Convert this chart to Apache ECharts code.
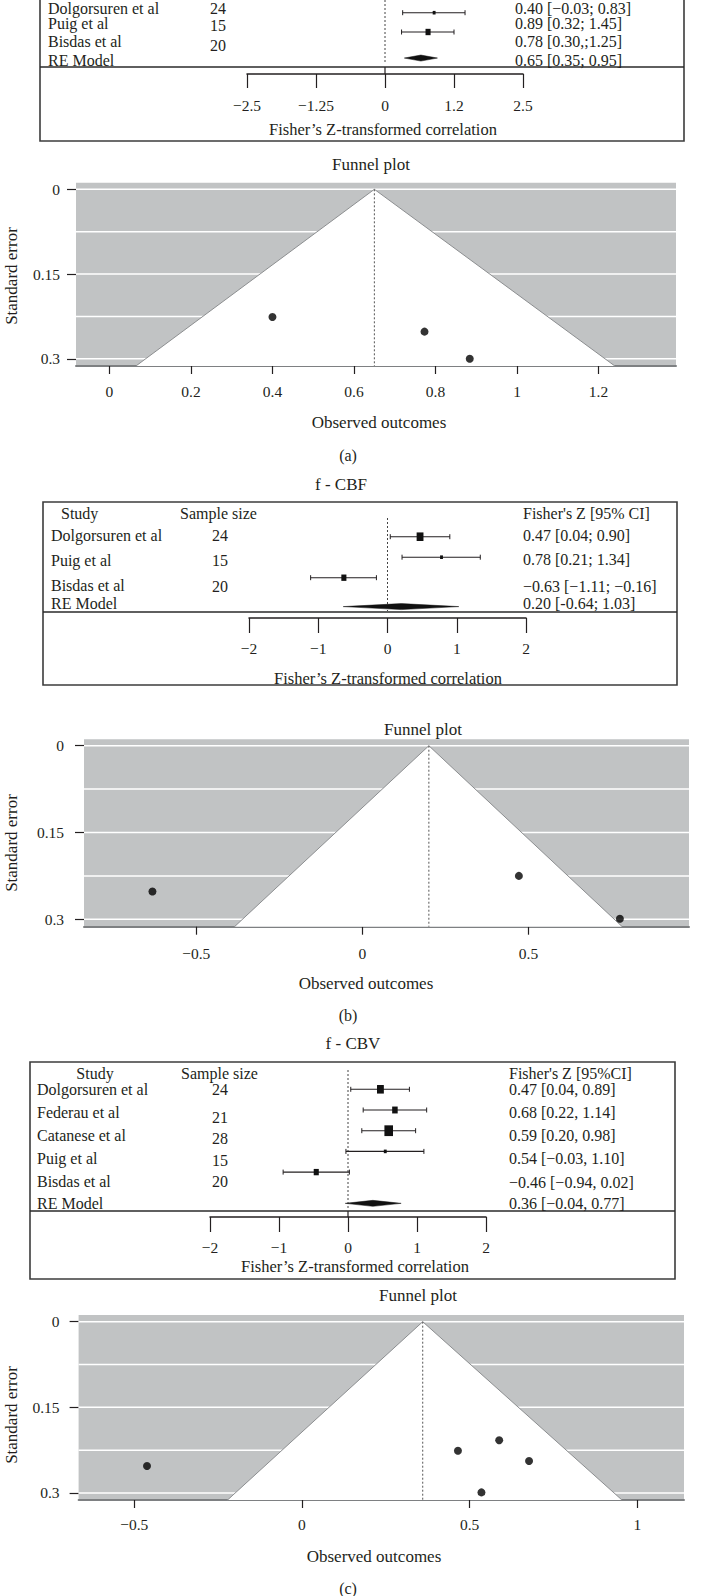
<!DOCTYPE html>
<html><head><meta charset="utf-8">
<script src="https://cdn.jsdelivr.net/npm/echarts@6.0.0/dist/echarts.min.js"></script>
<style>html,body{margin:0;padding:0;background:#fff}#chart{width:702px;height:1596px}</style>
</head><body><div id="chart"></div>
<script>
// ================= DATA =================
// Panel (a) – forest (top part) + funnel
const studiesA   = ['Dolgorsuren et al', 'Puig et al', 'Bisdas et al'];
const sampleA    = [24, 15, 20];
const estA       = [0.40, 0.89, 0.78];
const loA        = [-0.03, 0.32, 0.30];
const hiA        = [0.83, 1.45, 1.25];
const ciTextA    = ['0.40 [−0.03; 0.83]', '0.89 [0.32; 1.45]', '0.78 [0.30,;1.25]'];
const reA        = [0.65, 0.35, 0.95];
const reTextA    = '0.65 [0.35; 0.95]';
const forestTickLabelsA = ['−2.5', '−1.25', '0', '1.2', '2.5'];
const funnelObsA = [0.40, 0.884, 0.773];
const funnelSeA  = [0.226, 0.300, 0.252];
const funnelEdgesA = [0.065, 1.24];
const funnelTicksA = [0, 0.2, 0.4, 0.6, 0.8, 1, 1.2];

// Panel (b) – f-CBF
const studiesB   = ['Dolgorsuren et al', 'Puig et al', 'Bisdas et al'];
const sampleB    = [24, 15, 20];
const estB       = [0.47, 0.78, -0.63];
const loB        = [0.04, 0.21, -1.11];
const hiB        = [0.90, 1.34, -0.16];
const ciTextB    = ['0.47 [0.04; 0.90]', '0.78 [0.21; 1.34]', '−0.63 [−1.11; −0.16]'];
const reB        = [0.20, -0.64, 1.03];
const reTextB    = '0.20 [-0.64; 1.03]';
const forestTickLabelsB = ['−2', '−1', '0', '1', '2'];
const funnelObsB = [0.471, 0.775, -0.632];
const funnelSeB  = [0.225, 0.299, 0.252];
const funnelEdgesB = [-0.385, 0.782];
const funnelTicksB = [-0.5, 0, 0.5];

// Panel (c) – f-CBV
const studiesC   = ['Dolgorsuren et al', 'Federau et al', 'Catanese et al', 'Puig et al', 'Bisdas et al'];
const sampleC    = [24, 21, 28, 15, 20];
const estC       = [0.47, 0.68, 0.59, 0.54, -0.46];
const loC        = [0.04, 0.22, 0.20, -0.03, -0.94];
const hiC        = [0.89, 1.14, 0.98, 1.10, 0.02];
const ciTextC    = ['0.47 [0.04, 0.89]', '0.68 [0.22, 1.14]', '0.59 [0.20, 0.98]', '0.54 [−0.03, 1.10]', '−0.46 [−0.94, 0.02]'];
const reC        = [0.36, -0.04, 0.77];
const reTextC    = '0.36 [−0.04, 0.77]';
const forestTickLabelsC = ['−2', '−1', '0', '1', '2'];
const funnelObsC = [0.465, 0.677, 0.588, 0.535, -0.462];
const funnelSeC  = [0.226, 0.244, 0.2075, 0.299, 0.2526];
const funnelEdgesC = [-0.222, 0.954];
const funnelTicksC = [-0.5, 0, 0.5, 1];

const seTicks     = [0, 0.15, 0.3];
const seGridlines = [0, 0.075, 0.15, 0.225, 0.3];

// ================= LAYOUT / STYLE =================
const FONT = '"Liberation Serif", "Times New Roman", serif';
const INK = '#231f20';
const GRAY = '#c1c3c4';

const forestLayout = {
  a: {box:[40,-5,684,141], divider:67, nameX:48, sizeX:210, ciX:515,
      nameY:[8,23,41], sizeY:[8,25,45], ciY:[8,23,41], reY:60,
      gridX:[247,523], axisY:74, tickLen:14, labelMargin:23, axMin:-2.5, axMax:2.5, axInt:1.25,
      titleX:383, titleY:129, row0:-6.6, dy:19.3, reRow:3.35, zeroTop:0, zeroBottom:64, zeroTickUp:true, header:null},
  b: {box:[43,502,677,685], divider:612, nameX:51, sizeX:212, ciX:523,
      nameY:[535,560,585], sizeY:[535,560,586], ciY:[535,559,586], reY:603,
      gridX:[249,526], axisY:618, tickLen:15, labelMargin:22, axMin:-2, axMax:2, axInt:1,
      titleX:388, titleY:678, row0:536.7, dy:20.5, reRow:3.41, zeroTop:518, zeroBottom:611, zeroTickUp:false,
      header:{y:513, studyX:61, studyAlign:'left', sizeX:180, ciX:523, ciLabel:"Fisher's Z [95% CI]"}},
  c: {box:[30,1062,675,1279], divider:1211, nameX:37, sizeX:212, ciX:509,
      nameY:[1089,1112,1135,1158,1181], sizeY:[1089,1117,1138,1160,1181], ciY:[1089,1112,1135,1158,1182], reY:1203,
      gridX:[210,486], axisY:1217, tickLen:15, labelMargin:22, axMin:-2, axMax:2, axInt:1,
      titleX:355, titleY:1266, row0:1089.3, dy:20.7, reRow:5.51, zeroTop:1070, zeroBottom:1210, zeroTickUp:true,
      header:{y:1073, studyX:95, studyAlign:'center', sizeX:181, ciX:509, ciLabel:"Fisher's Z [95%CI]"}}
};
const funnelLayout = {
  a: {plot:[76,182.7,676,366], xMin:-0.082, xMax:1.39, yMin:-0.0117, yMax:0.3128,
      xLabelMargin:17, yLabelMargin:16, titleX:371, titleY:164, xNameX:379, xNameY:422, yNameY:276},
  b: {plot:[84,739.3,689,926.7], xMin:-0.838, xMax:0.983, yMin:-0.0111, yMax:0.3128,
      xLabelMargin:19, yLabelMargin:20, titleX:423, titleY:729, xNameX:366, xNameY:983, yNameY:843},
  c: {plot:[78.6,1315,684,1500], xMin:-0.666, xMax:1.139, yMin:-0.01175, yMax:0.3123,
      xLabelMargin:16, yLabelMargin:19, titleX:418, titleY:1295, xNameX:374, xNameY:1556, yNameY:1415}
};
const captions = [
  ['(a)', 348, 455, 16], ['f - CBF', 341, 484, 17],
  ['(b)', 348, 1015, 16], ['f - CBV', 353, 1043, 17],
  ['(c)', 348, 1588, 16]
];

// ================= BUILD =================
const option = {animation:false, backgroundColor:'#fff', grid:[], xAxis:[], yAxis:[], series:[], graphic:[]};
const G = option.graphic;

function T(x, y, text, size, align, rot) {
  return {type:'text', x:x, y:y, rotation:rot||0, silent:true, z:20,
    style:{text:text, fontFamily:FONT, fontSize:size||16, fill:INK,
      align:align||'left', textAlign:align||'left', verticalAlign:'middle', textVerticalAlign:'middle'}};
}
function signed(v) { const s = String(Math.round(v*1000)/1000); return v < 0 ? '−' + s.slice(1) : s; }

function renderCI(params, api) {
  const e = api.value(0), lo = api.value(1), hi = api.value(2), r = api.value(3), n = api.value(4);
  const pL = api.coord([lo, r]), pH = api.coord([hi, r]), pE = api.coord([e, r]);
  const h = Math.max(3.5, 0.55 * (n - 3) - 3), w = h * 0.8;
  return {type:'group', children:[
    {type:'line', shape:{x1:pL[0], y1:pL[1], x2:pH[0], y2:pH[1]}, style:{stroke:INK, lineWidth:1.1}},
    {type:'line', shape:{x1:pL[0], y1:pL[1]-2.5, x2:pL[0], y2:pL[1]+2.5}, style:{stroke:INK, lineWidth:1}},
    {type:'line', shape:{x1:pH[0], y1:pH[1]-2.5, x2:pH[0], y2:pH[1]+2.5}, style:{stroke:INK, lineWidth:1}},
    {type:'rect', shape:{x:pE[0]-w/2, y:pE[1]-h/2, width:w, height:h}, style:{fill:'#111'}}
  ]};
}
function renderDiamond(params, api) {
  const e = api.value(0), lo = api.value(1), hi = api.value(2), r = api.value(3);
  const pL = api.coord([lo, r]), pH = api.coord([hi, r]), pE = api.coord([e, r]);
  return {type:'polygon', shape:{points:[[pL[0],pL[1]],[pE[0],pE[1]-3],[pH[0],pH[1]],[pE[0],pE[1]+3]]},
    style:{fill:'#111', stroke:'#111', lineWidth:0.5}};
}
function renderVLine(params, api) {
  const a = api.coord([api.value(0), api.value(1)]), b = api.coord([api.value(0), api.value(2)]);
  const solid = api.value(3) === 1;
  return {type:'line', shape:{x1:a[0], y1:a[1], x2:b[0], y2:b[1]},
    style:solid ? {stroke:INK, lineWidth:1.2} : {stroke:'#444', lineWidth:1, lineDash:[2,2]}};
}

function addForest(L, D) {
  const gi = option.grid.length;
  const toRow = px => (px - L.row0) / L.dy;
  option.grid.push({left:L.gridX[0], top:L.zeroTop, width:L.gridX[1]-L.gridX[0], height:L.axisY-L.zeroTop, containLabel:false});
  option.xAxis.push({gridIndex:gi, type:'value', min:L.axMin, max:L.axMax, interval:L.axInt, position:'bottom',
    axisLine:{show:true, onZero:false, lineStyle:{color:INK, width:1.5}},
    axisTick:{show:true, inside:false, length:L.tickLen, lineStyle:{color:INK, width:1.2}},
    axisLabel:{show:true, margin:L.labelMargin, fontFamily:FONT, fontSize:15.5, color:INK, showMinLabel:true, showMaxLabel:true,
      formatter: v => D.tickLabels[Math.round((v - L.axMin) / L.axInt)]},
    splitLine:{show:false}});
  option.yAxis.push({gridIndex:gi, type:'value', inverse:true, min:toRow(L.zeroTop), max:toRow(L.axisY), show:false});
  const zl = [[0, toRow(L.zeroTop), toRow(L.zeroBottom), 0]];
  if (L.zeroTickUp) zl.push([0, toRow(L.divider), toRow(L.axisY), 1]);
  option.series.push({type:'custom', xAxisIndex:gi, yAxisIndex:gi, clip:false, silent:true, z:2,
    data:zl, renderItem:renderVLine});
  option.series.push({type:'custom', xAxisIndex:gi, yAxisIndex:gi, clip:false, silent:true, z:3,
    data:D.est.map((e,i) => [e, D.lo[i], D.hi[i], i, D.n[i]]), renderItem:renderCI});
  option.series.push({type:'custom', xAxisIndex:gi, yAxisIndex:gi, clip:false, silent:true, z:3,
    data:[[D.re[0], D.re[1], D.re[2], L.reRow]], renderItem:renderDiamond});
  // frame
  const bx = L.box;
  G.push({type:'rect', silent:true, z:15, shape:{x:bx[0], y:bx[1], width:bx[2]-bx[0], height:bx[3]-bx[1]},
    style:{fill:'none', stroke:'#3c3c3c', lineWidth:1.6}});
  G.push({type:'line', silent:true, z:15, shape:{x1:bx[0], y1:L.divider, x2:bx[2], y2:L.divider},
    style:{stroke:'#2a2a2a', lineWidth:1.6}});
  // table text
  if (L.header) {
    const h = L.header;
    G.push(T(h.studyX, h.y, 'Study', 16, h.studyAlign));
    G.push(T(h.sizeX, h.y, 'Sample size', 16));
    G.push(T(h.ciX, h.y, h.ciLabel, 16));
  }
  D.studies.forEach((s, i) => {
    G.push(T(L.nameX, L.nameY[i], s, 16));
    G.push(T(L.sizeX, L.sizeY[i], String(D.n[i]), 16));
    G.push(T(L.ciX, L.ciY[i], D.ciText[i], 16));
  });
  G.push(T(L.nameX, L.reY, 'RE Model', 16));
  G.push(T(L.ciX, L.reY, D.reText, 16));
  G.push(T(L.titleX, L.titleY, 'Fisher’s Z-transformed correlation', 16.5, 'center'));
}

function renderGrid(params, api) {
  const cs = params.coordSys;
  const y = api.coord([0, api.value(1)])[1];
  return {type:'line', shape:{x1:cs.x, y1:y, x2:cs.x+cs.width, y2:y}, style:{stroke:'#ffffff', lineWidth:1.5}};
}

function addFunnel(L, D) {
  const gi = option.grid.length;
  const p = L.plot;
  option.grid.push({left:p[0], top:p[1], width:p[2]-p[0], height:p[3]-p[1], containLabel:false,
    show:true, backgroundColor:GRAY, borderWidth:0});
  option.xAxis.push({gridIndex:gi, type:'value', min:L.xMin, max:L.xMax, position:'bottom',
    axisLine:{show:true, onZero:false, lineStyle:{color:'#7e8082', width:2}},
    axisTick:{show:true, length:8, customValues:D.ticks, lineStyle:{color:INK, width:1.2}},
    axisLabel:{show:true, customValues:D.ticks, margin:L.xLabelMargin, fontFamily:FONT, fontSize:15.5, color:INK, formatter:signed},
    splitLine:{show:false}});
  option.yAxis.push({gridIndex:gi, type:'value', inverse:true, min:L.yMin, max:L.yMax,
    axisLine:{show:false, onZero:false},
    axisTick:{show:true, length:9, customValues:seTicks, lineStyle:{color:INK, width:1.2}},
    axisLabel:{show:true, customValues:seTicks, margin:L.yLabelMargin, fontFamily:FONT, fontSize:15.5, color:INK, formatter:signed},
    splitLine:{show:false}});
  option.series.push({type:'custom', xAxisIndex:gi, yAxisIndex:gi, clip:false, silent:true, z:1,
    data:seGridlines.map(v => [0, v]), renderItem:renderGrid});
  const yBottom = L.yMax;
  option.series.push({type:'custom', xAxisIndex:gi, yAxisIndex:gi, clip:false, silent:true, z:2,
    data:[[D.center, D.edges[0], D.edges[1]]],
    renderItem:(params, api) => {
      const apex = api.coord([api.value(0), 0]);
      const bl = api.coord([api.value(1), yBottom]);
      const br = api.coord([api.value(2), yBottom]);
      const bc = api.coord([api.value(0), yBottom]);
      return {type:'group', children:[
        {type:'polygon', shape:{points:[bl, apex, br]}, style:{fill:'#ffffff'}},
        {type:'polyline', shape:{points:[bl, apex, br]}, style:{stroke:'#8c8e90', lineWidth:1, fill:null}},
        {type:'line', shape:{x1:apex[0], y1:apex[1], x2:bc[0], y2:bc[1]}, style:{stroke:'#555', lineWidth:1, lineDash:[2,2]}}
      ]};
    }});
  option.series.push({type:'scatter', xAxisIndex:gi, yAxisIndex:gi, clip:false, silent:true, z:5,
    symbol:'circle', symbolSize:8, itemStyle:{color:'#000'},
    data:D.obs.map((x, i) => [x, D.se[i]])});
  G.push(T(L.titleX, L.titleY, 'Funnel plot', 17, 'center'));
  G.push(T(L.xNameX, L.xNameY, 'Observed outcomes', 17, 'center'));
  G.push(T(11, L.yNameY, 'Standard error', 17, 'center', Math.PI/2));
}

addForest(forestLayout.a, {studies:studiesA, n:sampleA, est:estA, lo:loA, hi:hiA, ciText:ciTextA, re:reA, reText:reTextA, tickLabels:forestTickLabelsA});
addFunnel(funnelLayout.a, {obs:funnelObsA, se:funnelSeA, center:reA[0], edges:funnelEdgesA, ticks:funnelTicksA});
addForest(forestLayout.b, {studies:studiesB, n:sampleB, est:estB, lo:loB, hi:hiB, ciText:ciTextB, re:reB, reText:reTextB, tickLabels:forestTickLabelsB});
addFunnel(funnelLayout.b, {obs:funnelObsB, se:funnelSeB, center:reB[0], edges:funnelEdgesB, ticks:funnelTicksB});
addForest(forestLayout.c, {studies:studiesC, n:sampleC, est:estC, lo:loC, hi:hiC, ciText:ciTextC, re:reC, reText:reTextC, tickLabels:forestTickLabelsC});
addFunnel(funnelLayout.c, {obs:funnelObsC, se:funnelSeC, center:reC[0], edges:funnelEdgesC, ticks:funnelTicksC});
captions.forEach(c => G.push(T(c[1], c[2], c[0], c[3], 'center')));

const chart = echarts.init(document.getElementById('chart'), null, {renderer:'svg', width:702, height:1596});
chart.setOption(option);
</script></body></html>
